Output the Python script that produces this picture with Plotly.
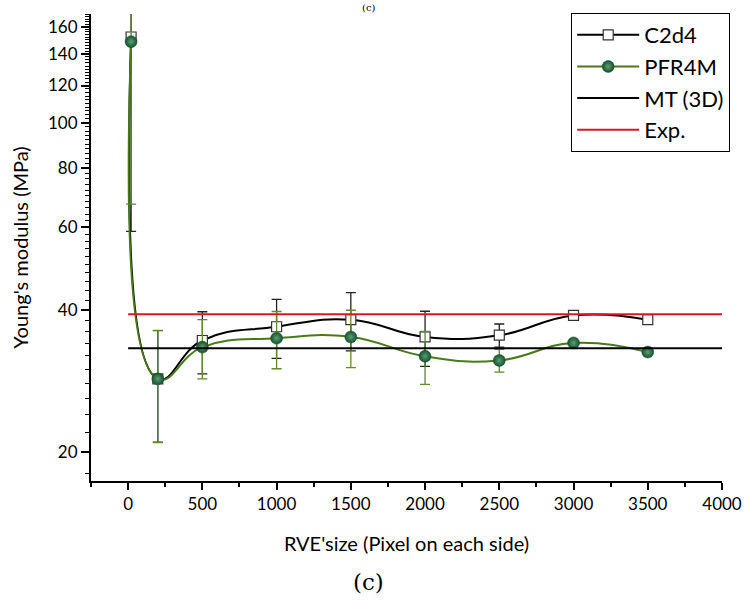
import plotly.graph_objects as go

# ---- data ----
x_sizes = [20, 200, 500, 1000, 1500, 2000, 2500, 3000, 3500]
c2d4 = [152.1, 28.6, 34.5, 36.9, 38.2, 35.1, 35.4, 39.0, 38.2]
c2d4_err = [93.3, 7.6, 5.2, 5.3, 5.4, 4.7, 2.0, 0, 0]
pfr4m = [148.7, 28.6, 33.4, 34.9, 35.1, 31.95, 31.3, 34.1, 32.6]
pfr4m_err = [81.5, 7.65, 4.8, 4.85, 4.9, 4.1, 1.75, 0, 0]
ref_x = [0, 4000]
mt3d = [33.2, 33.2]
exp_val = [39.2, 39.2]

x_ticks = [0, 500, 1000, 1500, 2000, 2500, 3000, 3500, 4000]
y_ticks = [20, 40, 60, 80, 100, 120, 140, 160]
y_minor = list(range(18, 171, 2))
x_minor = list(range(-250, 4001, 250))

FONT = "Lato"

fig = go.Figure()

fig.add_trace(go.Scatter(
    x=x_sizes, y=c2d4, name="C2d4", mode="lines+markers",
    line=dict(color="black", width=2, shape="spline", smoothing=1.3),
    marker=dict(symbol="square", size=10, color="white",
                line=dict(color="#333333", width=1.2)),
    error_y=dict(type="data", array=c2d4_err, color="#222222",
                 thickness=1.3, width=5),
))
fig.add_trace(go.Scatter(
    x=x_sizes, y=pfr4m, name="PFR4M", mode="lines+markers",
    line=dict(color="#4a7a16", width=2, shape="spline", smoothing=1.3),
    marker=dict(symbol="circle", size=12, color="#14532d",
                gradient=dict(type="radial", color="#5f9c78"),
                line=dict(color="#14532d", width=0.5)),
    error_y=dict(type="data", array=pfr4m_err, color="#5f8a2e",
                 thickness=1.3, width=5),
))
fig.add_trace(go.Scatter(
    x=ref_x, y=mt3d, name="MT (3D)", mode="lines",
    line=dict(color="black", width=2),
))
fig.add_trace(go.Scatter(
    x=ref_x, y=exp_val, name="Exp.", mode="lines",
    line=dict(color="#d41c1c", width=2),
))

fig.update_layout(
    width=754, height=604,
    margin=dict(l=91, r=25, t=14, b=123),
    paper_bgcolor="white", plot_bgcolor="white",
    font=dict(family=FONT, color="black", size=17),
    legend=dict(
        x=1.013, xanchor="right", y=1.002, yanchor="top",
        bordercolor="black", borderwidth=1, bgcolor="white",
        font=dict(family=FONT, size=22, color="black"),
        itemwidth=62, tracegroupgap=0,
    ),
    showlegend=True,
)

fig.update_xaxes(
    range=[-250, 4000], showgrid=False, zeroline=False,
    showline=True, linecolor="black", linewidth=2,
    tickmode="array", tickvals=x_ticks, ticktext=[str(v) for v in x_ticks],
    ticks="outside", ticklen=7, tickwidth=1.5, tickcolor="black",
    tickfont=dict(family=FONT, size=17),
    minor=dict(tickmode="array", tickvals=x_minor, ticks="outside",
               ticklen=4, tickwidth=1.5, tickcolor="black"),
    title=dict(text="RVE'size (Pixel on each side)", standoff=24,
               font=dict(family=FONT, size=20)),
)
fig.update_yaxes(
    type="log", range=[1.2395, 2.231], showgrid=False, zeroline=False,
    showline=True, linecolor="black", linewidth=2,
    tickmode="array", tickvals=y_ticks, ticktext=[str(v) for v in y_ticks],
    ticks="outside", ticklen=8, tickwidth=1.5, tickcolor="black",
    tickfont=dict(family=FONT, size=17),
    minor=dict(tickmode="array", tickvals=y_minor, ticks="outside",
               ticklen=4, tickwidth=1.3, tickcolor="black"),
    title=dict(text="Young's modulus (MPa)", standoff=14,
               font=dict(family=FONT, size=20)),
)

fig.add_annotation(
    text="(c)", xref="paper", yref="paper", x=0.44, y=-0.185,
    yanchor="top", showarrow=False,
    font=dict(family="DejaVu Serif", size=23, color="black"),
)
fig.add_annotation(
    text="(c)", xref="paper", yref="paper", x=0.44, y=1.0,
    yanchor="bottom", yshift=-1, showarrow=False,
    font=dict(family="DejaVu Serif", size=10, color="black"),
)

fig.write_html("out.html")
